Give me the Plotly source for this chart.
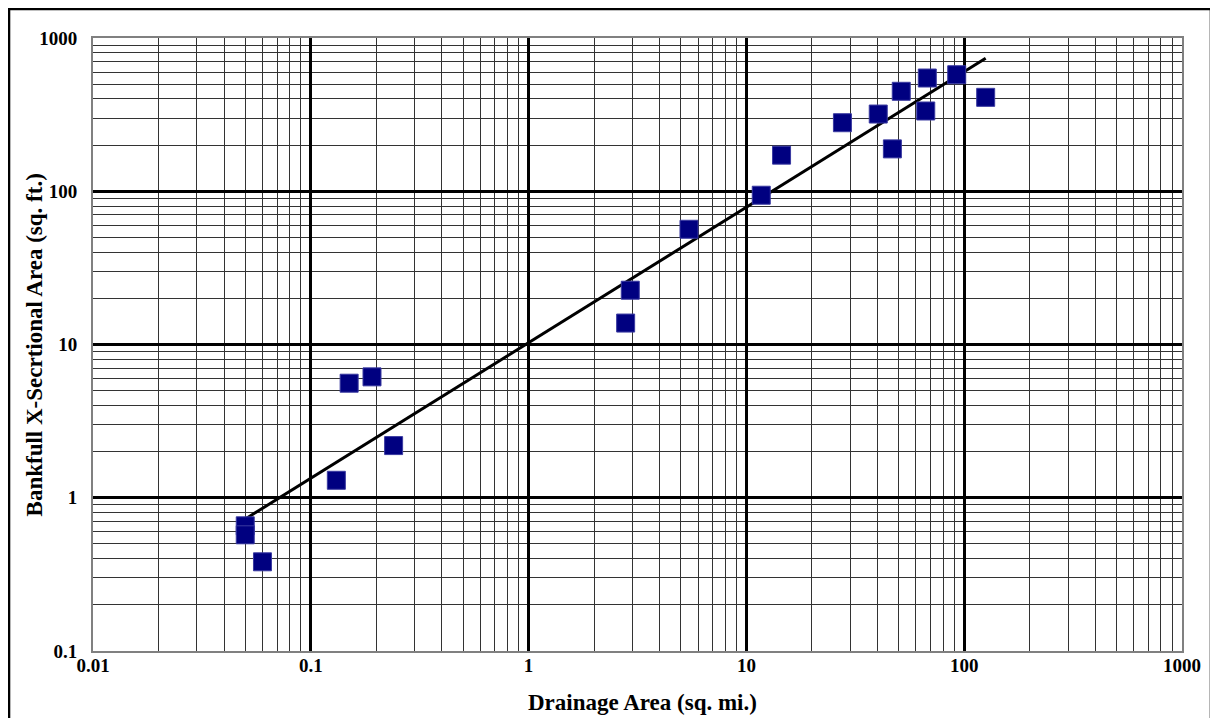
import plotly.graph_objects as go

# Observed data (drainage area sq. mi., bankfull cross-sectional area sq. ft.)
drainage_area = [0.050, 0.050, 0.060, 0.131, 0.150, 0.191, 0.240,
                 2.79, 2.93, 5.45, 11.7, 14.5, 27.6, 40.3, 46.8,
                 51.4, 66.6, 67.7, 92.4, 125.5]
xs_area = [0.656, 0.573, 0.382, 1.30, 5.59, 6.15, 2.19,
           13.8, 22.6, 56.5, 94.2, 172, 280, 319, 189,
           449, 334, 548, 576, 410]

# Regression line end points
fit_x = [0.0499, 125.5]
fit_y = [0.725, 737]

x_ticks = [0.01, 0.1, 1, 10, 100, 1000]
x_tick_text = ["0.01", "0.1", "1", "10", "100", "1000"]
y_ticks = [0.1, 1, 10, 100, 1000]
y_tick_text = ["0.1", "1", "10", "100", "1000"]

x_minor = [m * d for d in x_ticks[:-1] for m in range(2, 10)]
y_minor = [m * d for d in y_ticks[:-1] for m in range(2, 10)]

FONT = "Liberation Serif"

fig = go.Figure()
fig.add_trace(go.Scatter(x=fit_x, y=fit_y, mode="lines",
                         line=dict(color="black", width=3), showlegend=False))
fig.add_trace(go.Scatter(x=drainage_area, y=xs_area, mode="markers",
                         marker=dict(symbol="square", size=18, color="#000080",
                                     line=dict(color="#3a3aa0", width=1)),
                         showlegend=False))

axis_common = dict(
    type="log", showline=True, linecolor="#808080", linewidth=2, mirror=True,
    showgrid=True, gridcolor="black", gridwidth=3, zeroline=False, ticks="",
    automargin=False,
    tickfont=dict(family=FONT, size=19, color="black", weight="bold"),
)

fig.update_xaxes(range=[-2, 3], tickvals=x_ticks, ticktext=x_tick_text,
                 minor=dict(tickmode="array", tickvals=x_minor, showgrid=True,
                            gridcolor="#333333", gridwidth=1, ticks=""),
                 ticklabelstandoff=-4,
                 **axis_common)
fig.update_yaxes(range=[-1, 3], tickvals=y_ticks, ticktext=y_tick_text,
                 minor=dict(tickmode="array", tickvals=y_minor, showgrid=True,
                            gridcolor="#333333", gridwidth=1, ticks=""),
                 ticklabelstandoff=10,
                 **axis_common)

title_font = dict(family=FONT, size=23, color="black", weight="bold")
fig.add_annotation(text="Drainage Area (sq. mi.)", xref="paper", yref="paper",
                   x=0.505, y=-0.0848, xanchor="center", yanchor="middle",
                   showarrow=False, font=title_font)
fig.add_annotation(text="Bankfull X-Secrtional Area (sq. ft.)", xref="paper",
                   yref="paper", x=-0.0533, y=0.5, xanchor="center",
                   yanchor="middle", textangle=-90, showarrow=False,
                   font=title_font)

fig.add_shape(type="rect", xref="paper", yref="paper",
              x0=-0.0771, x1=1.0266, y0=-0.13, y1=1.0473,
              line=dict(color="black", width=2.5), fillcolor="rgba(0,0,0,0)",
              layer="above")

fig.update_layout(
    width=1210, height=710,
    margin=dict(l=85, r=36, t=30, b=67),
    plot_bgcolor="white", paper_bgcolor="white",
    font=dict(family=FONT, color="black"),
)

fig.write_html("out.html")
